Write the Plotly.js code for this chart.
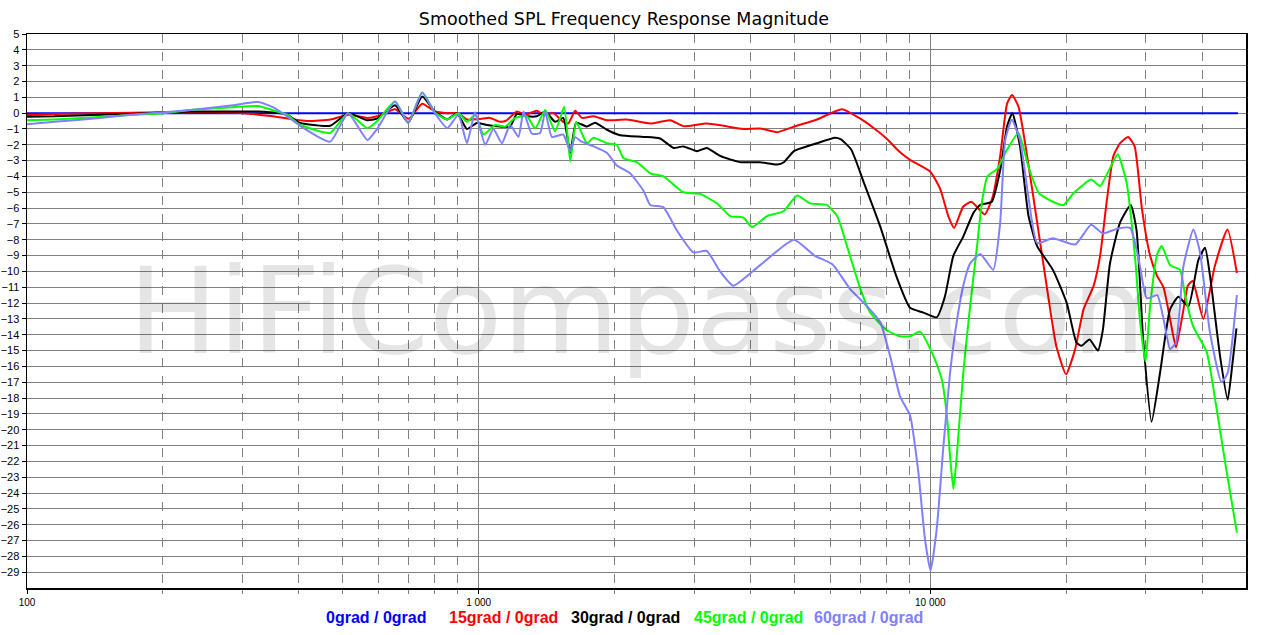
<!DOCTYPE html>
<html>
<head>
<meta charset="utf-8">
<script src="https://cdn.plot.ly/plotly-3.0.1.min.js"></script>
<style>
html,body{margin:0;padding:0;background:#fff;}
#chart{width:1276px;height:635px;}
</style>
</head>
<body>
<div id="chart"></div>
<script>
// ---- data (frequency in Hz, SPL in dB) ----
const seriesNames = ["0grad / 0grad", "15grad / 0grad", "30grad / 0grad", "45grad / 0grad", "60grad / 0grad"];
const seriesColors = ["#0000ff", "#ff0000", "#000000", "#00ff00", "#8080ff"];

const freq0 = [100, 1000, 10000, 48000];
const spl0 = [0, 0, 0, 0];

const freq15 = [100, 115, 145, 200, 260, 300, 350, 400, 420, 470, 515, 567, 596, 653, 700, 750, 800, 852, 902, 942, 1008, 1060, 1116, 1154, 1215, 1268, 1345, 1391, 1464, 1539, 1580, 1636, 1692, 1797, 1923, 2129, 2398, 2655, 2840, 3198, 3485, 3860, 4200, 4580, 4990, 5610, 6370, 7000, 7500, 8000, 8500, 9020, 10000, 10520, 10960, 11290, 11830, 12330, 13200, 13740, 14280, 14790, 15170, 15680, 16380, 17240, 18050, 19000, 19980, 20930, 21840, 23000, 23770, 24600, 25440, 26320, 27410, 28340, 29400, 30660, 31800, 32830, 33950, 35000, 36300, 37170, 38100, 40230, 42610, 45500, 47730];
const spl15 = [-0.12, -0.05, 0.0, 0.05, 0.05, 0.0, -0.2, -0.45, -0.5, -0.4, -0.1, -0.3, -0.2, 0.25, -0.35, 0.6, 0.1, 0.0, 0.0, -0.4, -0.37, -0.3, -0.55, -0.45, 0.1, -0.1, 0.15, -0.1, 0.0, -0.55, -0.65, 0.15, -0.3, -0.2, -0.45, -0.4, -0.65, -0.45, -0.82, -0.65, -0.8, -1.0, -0.97, -1.2, -0.85, -0.4, 0.25, -0.35, -0.95, -1.6, -2.37, -2.95, -3.7, -4.8, -6.5, -7.25, -5.9, -5.6, -6.4, -5.3, -2.7, 0.6, 1.15, 0.4, -2.7, -6.9, -10.7, -14.7, -16.5, -14.9, -12.4, -10.9, -9.0, -5.5, -2.7, -1.9, -1.5, -2.1, -6.0, -9.0, -10.3, -11.0, -13.0, -14.8, -12.5, -10.9, -10.6, -13.0, -9.7, -7.35, -10.1];

const freq30 = [100, 115, 145, 170, 200, 230, 286, 325, 377, 400, 417, 469, 514, 567, 596, 653, 698, 750, 800, 852, 895, 942, 991, 1043, 1116, 1174, 1215, 1279, 1345, 1404, 1477, 1539, 1595, 1644, 1737, 1811, 1923, 2058, 2317, 2522, 2700, 2840, 3043, 3198, 3425, 3800, 4200, 4580, 4740, 4990, 5610, 6150, 6340, 6680, 7130, 7745, 8410, 9020, 9660, 10330, 10770, 11250, 11830, 12460, 12900, 13680, 14280, 14790, 15190, 15800, 16500, 17240, 18680, 20050, 21070, 21600, 22520, 23500, 24100, 24990, 26320, 27780, 28620, 29600, 30900, 32260, 33950, 35420, 37280, 39240, 40580, 41630, 43780, 45550, 46670, 47630];
const spl30 = [-0.22, -0.2, -0.1, -0.05, 0.05, 0.1, 0.1, 0.1, -0.1, -0.6, -0.7, -0.8, 0.0, -0.45, -0.35, 0.5, -0.6, 1.05, 0.1, -0.4, 0.0, -1.0, -0.62, -0.75, -0.85, -0.85, -0.05, -0.2, -0.2, 0.1, -0.55, -0.3, -2.5, -0.6, -0.85, -0.6, -1.05, -1.4, -1.5, -1.6, -2.2, -2.1, -2.4, -2.2, -2.7, -3.1, -3.1, -3.25, -3.1, -2.4, -1.9, -1.55, -1.65, -2.3, -4.4, -7.15, -10.3, -12.3, -12.6, -12.9, -11.6, -9.0, -7.8, -6.3, -5.8, -5.6, -3.6, -0.84, 0.0, -2.1, -6.5, -8.4, -9.9, -12.0, -14.5, -14.7, -14.3, -15.0, -13.7, -9.5, -6.9, -5.8, -7.4, -14.3, -19.5, -16.4, -12.4, -11.6, -12.2, -9.25, -8.5, -10.3, -15.3, -18.1, -15.8, -13.6];

const freq45 = [100, 115, 145, 170, 200, 230, 286, 325, 349, 377, 400, 469, 514, 567, 596, 653, 698, 750, 800, 852, 902, 942, 982, 1025, 1088, 1145, 1205, 1279, 1334, 1404, 1477, 1546, 1595, 1644, 1737, 1797, 1923, 2022, 2093, 2240, 2398, 2566, 2840, 3093, 3370, 3605, 3860, 4030, 4350, 4730, 5070, 5421, 5900, 6220, 6540, 7000, 7360, 8000, 8570, 9020, 9490, 10150, 10600, 10880, 11060, 11250, 11440, 11830, 12250, 12690, 13030, 13380, 14080, 14790, 15680, 16500, 17390, 18680, 19730, 20770, 22700, 23770, 24870, 26000, 27200, 28380, 29150, 29960, 30660, 31800, 32550, 33950, 35730, 36650, 38170, 40930, 42950, 45090, 47730];
const spl45 = [-0.45, -0.4, -0.25, -0.1, 0.0, 0.2, 0.38, 0.45, 0.2, -0.1, -0.7, -1.25, 0.0, -0.95, -0.5, 0.73, -0.6, 1.3, 0.05, -0.4, 0.0, -0.55, -0.1, -1.35, -0.75, -0.85, -0.3, -0.2, -0.97, 0.2, -1.15, 0.4, -3.05, -0.55, -1.9, -1.55, -1.9, -2.0, -2.85, -3.1, -3.8, -4.0, -5.0, -5.1, -5.7, -6.5, -6.6, -7.2, -6.5, -6.2, -5.2, -5.7, -5.8, -6.5, -8.4, -11.1, -12.6, -13.7, -14.1, -14.1, -13.8, -15.3, -16.8, -19.1, -21.7, -23.75, -21.7, -16.4, -12.2, -8.4, -5.5, -4.0, -3.5, -2.3, -1.26, -3.4, -5.05, -5.6, -5.8, -5.05, -4.2, -4.6, -3.6, -2.6, -4.4, -9.0, -13.2, -15.7, -12.2, -8.9, -8.4, -9.6, -9.9, -11.5, -13.45, -15.1, -18.5, -22.3, -26.5];

const freq60 = [100, 115, 145, 170, 200, 230, 286, 325, 349, 377, 400, 469, 514, 567, 596, 653, 698, 750, 800, 852, 902, 942, 982, 1034, 1078, 1126, 1174, 1225, 1257, 1311, 1368, 1404, 1452, 1539, 1595, 1636, 1678, 1797, 1923, 2022, 2164, 2317, 2398, 2566, 2745, 2988, 3198, 3425, 3663, 4200, 4990, 5540, 6070, 6640, 7130, 7745, 8140, 8570, 9020, 9410, 9730, 10010, 10330, 10680, 11060, 11440, 11830, 12250, 12900, 13780, 14280, 14650, 15150, 15800, 16480, 17240, 18680, 20930, 22700, 24100, 25960, 27700, 28620, 29130, 30160, 31800, 32830, 33950, 35000, 36330, 38240, 39550, 41630, 44120, 45550, 47730];
const spl60 = [-0.7, -0.55, -0.3, -0.1, 0.05, 0.2, 0.5, 0.7, 0.4, -0.2, -0.75, -1.8, 0.0, -1.7, -1.0, 0.73, -0.6, 1.3, 0.0, -0.95, -0.1, -1.9, 0.05, -2.0, -1.0, -1.9, -0.75, -1.5, 0.1, -1.3, -1.25, 0.1, -1.5, -1.35, -2.4, -1.5, -1.75, -2.1, -2.5, -3.3, -3.8, -4.9, -5.8, -5.95, -7.4, -8.8, -8.7, -10.0, -10.9, -9.6, -8.0, -9.0, -9.55, -11.1, -12.0, -13.2, -15.3, -17.9, -19.1, -22.7, -26.9, -28.9, -26.3, -21.2, -16.4, -13.2, -10.9, -9.5, -8.9, -9.9, -6.9, -1.7, -0.42, -1.7, -5.25, -8.2, -7.9, -8.3, -7.05, -7.6, -7.3, -7.25, -8.6, -9.7, -11.7, -11.5, -13.0, -14.9, -14.5, -9.7, -7.35, -8.8, -13.9, -17.0, -16.4, -11.5];

// axis ticks
const xTickVals = [100, 1000, 10000];
const xTickText = ["100", "1 000", "10 000"];
const xMinorVals = [200, 300, 400, 500, 600, 700, 800, 900, 2000, 3000, 4000, 5000, 6000, 7000, 8000, 9000, 20000, 30000, 40000];
const yTickVals = [];
for (let v = 5; v >= -29; v--) yTickVals.push(v);

const titleText = "Smoothed SPL Frequency Response Magnitude";
const watermarkText = "HiFiCompass.com";

// ---- build ----
const xs = [freq0, freq15, freq30, freq45, freq60];
const ys = [spl0, spl15, spl30, spl45, spl60];
const traces = xs.map((x, i) => ({
  type: "scatter", mode: "lines", x: x, y: ys[i], name: seriesNames[i],
  line: {color: seriesColors[i], width: 2, shape: "spline", smoothing: 0.5},
  showlegend: false, hoverinfo: "skip"
}));

const legendX = [0.2863, 0.3905, 0.4906, 0.5915, 0.6907];
const annotations = seriesNames.map((n, i) => ({
  text: n, xref: "paper", yref: "paper", x: legendX[i], y: 0, yshift: -29,
  xanchor: "center", yanchor: "middle", showarrow: false,
  font: {family: "Liberation Sans, Arial, sans-serif", size: 16, color: seriesColors[i], weight: "bold"}
}));
annotations.unshift({
  text: watermarkText, xref: "paper", yref: "paper", x: 0.518, y: 0.50,
  xanchor: "center", yanchor: "middle", showarrow: false,
  font: {family: "DejaVu Sans, sans-serif", size: 120, color: "rgba(0,0,0,0.1)"}
});

const layout = {
  width: 1276, height: 635,
  margin: {l: 27, r: 30, t: 34, b: 47, pad: 0},
  paper_bgcolor: "#ffffff", plot_bgcolor: "#ffffff",
  showlegend: false,
  title: {text: titleText, x: 0.489, xref: "container", xanchor: "center", y: 0.970, yref: "container", yanchor: "middle",
          font: {family: "DejaVu Sans, sans-serif", size: 17.5, color: "#000000"}},
  xaxis: {
    type: "log", range: [2, Math.log10(50000)],
    tickmode: "array", tickvals: xTickVals, ticktext: xTickText,
    ticks: "outside", ticklen: 4, tickcolor: "#000000",
    tickfont: {family: "Liberation Sans, Arial, sans-serif", size: 10, color: "#000000"},
    showgrid: true, gridcolor: "#808080", gridwidth: 1,
    minor: {tickmode: "array", tickvals: xMinorVals, showgrid: true, gridcolor: "#808080", gridwidth: 1, griddash: "dash",
            ticks: "outside", ticklen: 4, tickcolor: "#808080"},
    showline: true, linecolor: "#000000", linewidth: 1.5, mirror: true,
    zeroline: false, fixedrange: true
  },
  yaxis: {
    range: [-30, 5],
    tickmode: "array", tickvals: yTickVals,
    ticks: "outside", ticklen: 4, tickcolor: "#000000",
    tickfont: {family: "Liberation Sans, Arial, sans-serif", size: 11, color: "#000000"},
    showgrid: true, gridcolor: "#808080", gridwidth: 1,
    showline: true, linecolor: "#000000", linewidth: 1.5, mirror: true,
    zeroline: false, fixedrange: true
  },
  annotations: annotations
};

Plotly.newPlot("chart", traces, layout, {staticPlot: true, displayModeBar: false});
</script>
</body>
</html>
